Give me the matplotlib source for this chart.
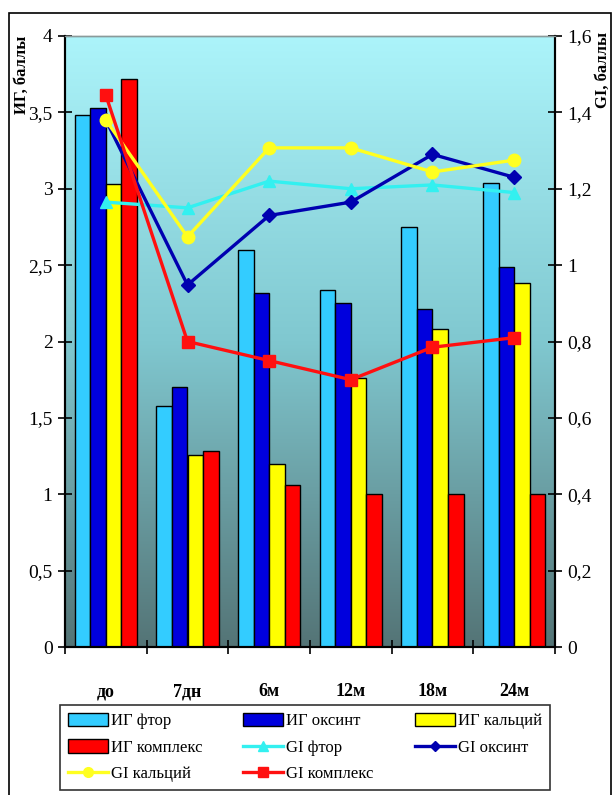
import numpy as np
import matplotlib
matplotlib.use("Agg")
import matplotlib.pyplot as plt
from matplotlib.ticker import FuncFormatter, FixedLocator
from matplotlib.patches import Rectangle, Patch
from matplotlib.lines import Line2D

# hygiene index (bars, left axis) and gingival index (lines, right axis)
periods = ["до", "7дн", "6м", "12м", "18м", "24м"]

ig_ftor = [3.48, 1.58, 2.60, 2.34, 2.75, 3.04]
ig_oksint = [3.53, 1.70, 2.32, 2.25, 2.21, 2.49]
ig_kalciy = [3.03, 1.26, 1.20, 1.76, 2.08, 2.38]
ig_kompleks = [3.72, 1.28, 1.06, 1.00, 1.00, 1.00]

gi_ftor = [1.165, 1.15, 1.22, 1.20, 1.21, 1.19]
gi_oksint = [1.38, 0.948, 1.13, 1.165, 1.29, 1.23]
gi_kalciy = [1.38, 1.074, 1.307, 1.307, 1.244, 1.275]
gi_kompleks = [1.445, 0.80, 0.75, 0.70, 0.785, 0.81]

bar_series = [
    ("ИГ фтор", ig_ftor, "#33ccff"),
    ("ИГ оксинт", ig_oksint, "#0000dd"),
    ("ИГ кальций", ig_kalciy, "#ffff00"),
    ("ИГ комплекс", ig_kompleks, "#ff0000"),
]
line_series = [
    ("GI фтор", gi_ftor, "#33f0f0", "^", 9),
    ("GI оксинт", gi_oksint, "#0000b0", "D", 7),
    ("GI кальций", gi_kalciy, "#ffff20", "o", 9),
    ("GI комплекс", gi_kompleks, "#ff1010", "s", 9),
]

plt.rcParams["font.family"] = ["Liberation Serif", "DejaVu Serif"]


def comma(v, pos):
    return f"{v:g}".replace(".", ",")


fig = plt.figure(figsize=(6.15, 7.95), dpi=100)
fig.patch.set_facecolor("white")
ax = fig.add_axes([65 / 615, 1 - 647 / 795, 490 / 615, 611 / 795])

# outer chart frame
fig.patches.append(Rectangle((9 / 615, -0.05), 602 / 615, 1.05 - 13 / 795,
                             transform=fig.transFigure, fill=False,
                             edgecolor="black", lw=1.2, zorder=0))

x = np.arange(len(periods))
ax.set_xlim(-0.5, len(periods) - 0.5)
ax.set_ylim(0, 4)

# background gradient of the plot area
grad = np.linspace(0, 1, 256)[:, None]
top = np.array([172, 244, 250]) / 255
mid = np.array([128, 200, 208]) / 255
bot = np.array([84, 116, 118]) / 255
rgb = np.where(grad[..., None] < 0.5,
               top + (mid - top) * (grad[..., None] / 0.5),
               mid + (bot - mid) * ((grad[..., None] - 0.5) / 0.5))
rgb = np.repeat(rgb, 2, axis=1)
ax.imshow(rgb, extent=(-0.5, len(periods) - 0.5, 0, 4), aspect="auto",
          origin="upper", zorder=0)

w = 0.19
handles = {}
for i, (name, vals, col) in enumerate(bar_series):
    ax.bar(x + (i - 1.5) * w, vals, width=w, color=col, edgecolor="black",
           linewidth=1.0, zorder=2)
    handles[name] = Patch(facecolor=col, edgecolor="black", linewidth=1.0)

ax2 = ax.twinx()
ax2.set_ylim(0, 1.6)
for name, vals, col, mk, ms in line_series:
    ax2.plot(x, vals, color=col, lw=2.4, marker=mk, markersize=ms,
             markeredgecolor=col, zorder=3)
    handles[name] = Line2D([], [], color=col, lw=2.4, marker=mk,
                           markersize=ms - 2, markeredgecolor=col)

ax.yaxis.set_major_locator(FixedLocator(np.arange(0, 4.01, 0.5)))
ax2.yaxis.set_major_locator(FixedLocator(np.arange(0, 1.61, 0.2)))
ax.yaxis.set_major_formatter(FuncFormatter(comma))
ax2.yaxis.set_major_formatter(FuncFormatter(comma))

ax.set_xticks(x)
ax.set_xticklabels(periods, fontsize=13, fontweight="bold")
ax.set_xticks(np.arange(-0.5, len(periods)), minor=True)
ax.tick_params(axis="x", which="major", length=0, pad=26)
ax.tick_params(axis="x", which="minor", direction="inout", length=10, width=1.2)
ax.tick_params(axis="y", direction="inout", length=10, width=1.2,
               labelsize=14, pad=4)
ax2.tick_params(axis="y", direction="inout", length=10, width=1.2,
                labelsize=14, pad=4)

for a in (ax, ax2):
    a.spines["top"].set_color("#8a9a9a")
    a.spines["top"].set_linewidth(1.0)
    for s in ("left", "right", "bottom"):
        a.spines[s].set_linewidth(1.5)

fig.text(22 / 615, 1 - 75 / 795, "ИГ, баллы", rotation=90, ha="center",
         va="center", fontsize=12, fontweight="bold")
fig.text(603 / 615, 1 - 70 / 795, "GI, баллы", rotation=90, ha="center",
         va="center", fontsize=12, fontweight="bold")

order = ["ИГ фтор", "ИГ комплекс", "GI кальций",
         "ИГ оксинт", "GI фтор", "GI комплекс",
         "ИГ кальций", "GI оксинт"]
leg = fig.legend([handles[n] for n in order], order, ncol=3,
                 loc="upper left", bbox_to_anchor=(60 / 615, 1 - 705 / 795),
                 borderaxespad=0, frameon=True, fancybox=False,
                 edgecolor="black", fontsize=12, handlelength=2.4,
                 handleheight=0.9, handletextpad=0.2, columnspacing=2.45,
                 labelspacing=0.6, borderpad=0.45)
leg.get_frame().set_linewidth(1.2)

fig.savefig("out.png", dpi=100)
